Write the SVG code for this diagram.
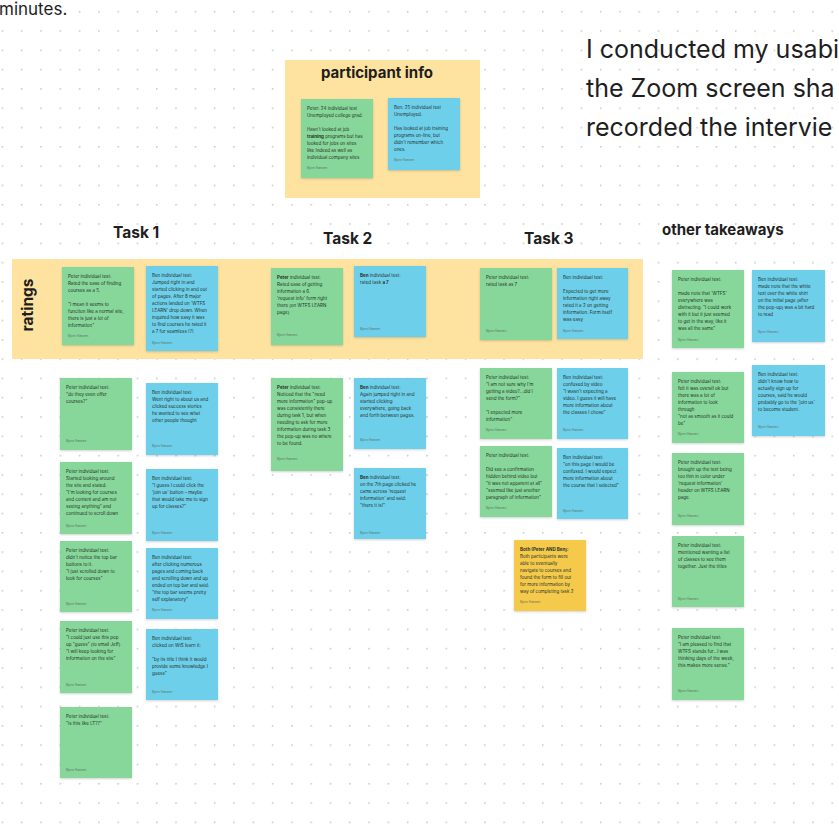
<svg xmlns="http://www.w3.org/2000/svg" width="839" height="839" viewBox="0 0 839 839">
<defs>
<pattern id="dots" x="1.6" y="10.9" width="19.3" height="19.3" patternUnits="userSpaceOnUse">
<circle cx="0.8" cy="0.8" r="0.85" fill="#c6c6c6"/>
</pattern>
<filter id="sh" x="-10%" y="-10%" width="130%" height="130%">
<feDropShadow dx="0" dy="1" stdDeviation="1" flood-color="#000" flood-opacity="0.18"/>
</filter>
<style>
.g{fill:#88d79a;filter:url(#sh)}
.b{fill:#6ecfea;filter:url(#sh)}
.y{fill:#f5ca4c;filter:url(#sh)}
.board{fill:#fde39f}
.t{font-family:Inter,"Liberation Sans",sans-serif;font-size:4.5px;fill:#24332c}
.a{font-family:Inter,"Liberation Sans",sans-serif;font-size:3.2px;fill:#5a6f64}
.h{font-family:Inter,"Liberation Sans",sans-serif;font-weight:700;fill:#1e1e1e}
.big{font-family:Inter,"Liberation Sans",sans-serif;fill:#1e1e1e}
.bo{font-weight:700}
</style>
</defs>
<rect width="839" height="839" fill="#ffffff"/>
<rect width="839" height="839" fill="url(#dots)"/>

<text class="big" x="-1" y="15" font-size="17">minutes.</text>
<g id="intro">
<text class="big" x="586" y="58" font-size="25">I conducted my usabi</text>
<text class="big" x="586" y="97" font-size="25">the Zoom screen sha</text>
<text class="big" x="586" y="136" font-size="25">recorded the intervie</text>
</g>

<g id="participant-info">
<rect class="board" x="285" y="60" width="195" height="138"/>
<text class="h" x="377" y="78" font-size="15" text-anchor="middle">participant info</text>
</g>
<g id="p-peter" transform="translate(301,99)">
<rect class="g" width="72" height="79"/>
<text class="t"><tspan x="6" y="11">Peter: 24 individual test</tspan><tspan x="6" y="18">Unemployed college grad.</tspan><tspan x="6" y="32">Hasn't looked at job</tspan><tspan x="6" y="39"><tspan class="bo">training</tspan> programs but has</tspan><tspan x="6" y="46">looked for jobs on sites</tspan><tspan x="6" y="53">like Indeed as well as</tspan><tspan x="6" y="60">individual company sites</tspan></text>
<text class="a" x="6" y="70">Bjorn Hansen</text>
</g>
<g id="p-ben" transform="translate(388,98)">
<rect class="b" width="72" height="72"/>
<text class="t"><tspan x="6" y="11">Ben: 25 individual test</tspan><tspan x="6" y="18">Unemployed.</tspan><tspan x="6" y="32">Has looked at job training</tspan><tspan x="6" y="39">programs on-line, but</tspan><tspan x="6" y="46">didn't remember which</tspan><tspan x="6" y="53">ones.</tspan></text>
<text class="a" x="6" y="63">Bjorn Hansen</text>
</g>

<g id="headings">
<text class="h" x="113" y="238" font-size="15.5">Task 1</text>
<text class="h" x="323" y="244" font-size="15.5">Task 2</text>
<text class="h" x="524" y="244" font-size="15.5">Task 3</text>
<text class="h" x="662" y="235" font-size="15">other takeaways</text>
</g>

<g id="ratings">
<rect class="board" x="12" y="259" width="631" height="100"/>
<text class="h" font-size="15.5" text-anchor="middle" transform="translate(33,305) rotate(-90)">ratings</text>
</g>

<g id="r1-peter" transform="translate(62,267)">
<rect class="g" width="72" height="78"/>
<text class="t"><tspan x="6" y="11">Peter individual test:</tspan><tspan x="6" y="18">Rated the ease of finding</tspan><tspan x="6" y="25">courses as a 5.</tspan><tspan x="6" y="39">"I mean it seems to</tspan><tspan x="6" y="46">function like a normal site,</tspan><tspan x="6" y="53">there is just a lot of</tspan><tspan x="6" y="60">information"</tspan></text>
<text class="a" x="6" y="70">Bjorn Hansen</text>
</g>
<g id="r1-ben" transform="translate(146,266)">
<rect class="b" width="72" height="85"/>
<text class="t"><tspan x="6" y="11">Ben individual test:</tspan><tspan x="6" y="18">Jumped right in and</tspan><tspan x="6" y="25">started clicking in and out</tspan><tspan x="6" y="32">of pages. After 8 major</tspan><tspan x="6" y="39">actions landed on 'WTFS</tspan><tspan x="6" y="46">LEARN' drop down. When</tspan><tspan x="6" y="53">inquired how easy it was</tspan><tspan x="6" y="60">to find courses he rated it</tspan><tspan x="6" y="67">a 7 for seamless (?)</tspan></text>
<text class="a" x="6" y="78">Bjorn Hansen</text>
</g>
<g id="r2-peter" transform="translate(271,268)">
<rect class="g" width="72" height="77"/>
<text class="t"><tspan x="6" y="11"><tspan class="bo">Peter</tspan> individual test:</tspan><tspan x="6" y="18">Rated ease of getting</tspan><tspan x="6" y="25">information a 6.</tspan><tspan x="6" y="32">'request info' form right</tspan><tspan x="6" y="39">there (on WTFS LEARN</tspan><tspan x="6" y="46">page)</tspan></text>
<text class="a" x="6" y="68">Bjorn Hansen</text>
</g>
<g id="r2-ben" transform="translate(354,266)">
<rect class="b" width="72" height="71"/>
<text class="t"><tspan x="6" y="11"><tspan class="bo">Ben</tspan> individual test:</tspan><tspan x="6" y="18">rated task <tspan class="bo">a 7</tspan></tspan></text>
<text class="a" x="6" y="64">Bjorn Hansen</text>
</g>
<g id="r3-peter" transform="translate(480,268)">
<rect class="g" width="72" height="72"/>
<text class="t"><tspan x="6" y="11">Peter individual test:</tspan><tspan x="6" y="18">rated task as 7</tspan></text>
<text class="a" x="6" y="64">Bjorn Hansen</text>
</g>
<g id="r3-ben" transform="translate(557,268)">
<rect class="b" width="71" height="71"/>
<text class="t"><tspan x="6" y="11">Ben individual test:</tspan><tspan x="6" y="25">Expected to get more</tspan><tspan x="6" y="32">information right away</tspan><tspan x="6" y="39">rated it a 2 on getting</tspan><tspan x="6" y="46">information. Form itself</tspan><tspan x="6" y="53">was easy</tspan></text>
<text class="a" x="6" y="64">Bjorn Hansen</text>
</g>

<g id="t1-peter-1" transform="translate(60,378)">
<rect class="g" width="72" height="72"/>
<text class="t"><tspan x="6" y="11">Peter individual test:</tspan><tspan x="6" y="18">"do they even offer</tspan><tspan x="6" y="25">courses?"</tspan></text>
<text class="a" x="6" y="64">Bjorn Hansen</text>
</g>
<g id="t1-ben-1" transform="translate(146,383)">
<rect class="b" width="72" height="72"/>
<text class="t"><tspan x="6" y="11">Ben individual test:</tspan><tspan x="6" y="18">Went right to about us and</tspan><tspan x="6" y="25">clicked success stories</tspan><tspan x="6" y="32">he wanted to see what</tspan><tspan x="6" y="39">other people thought</tspan></text>
<text class="a" x="6" y="64">Bjorn Hansen</text>
</g>
<g id="t1-peter-2" transform="translate(60,462)">
<rect class="g" width="72" height="72"/>
<text class="t"><tspan x="6" y="11">Peter individual test:</tspan><tspan x="6" y="18">Started looking around</tspan><tspan x="6" y="25">the site and stated:</tspan><tspan x="6" y="32">"I'm looking for courses</tspan><tspan x="6" y="39">and content and am not</tspan><tspan x="6" y="46">seeing anything" and</tspan><tspan x="6" y="53">continued to scroll down</tspan></text>
<text class="a" x="6" y="65">Bjorn Hansen</text>
</g>
<g id="t1-ben-2" transform="translate(146,469)">
<rect class="b" width="72" height="72"/>
<text class="t"><tspan x="6" y="11">Ben individual test:</tspan><tspan x="6" y="18">"I guess I could click the</tspan><tspan x="6" y="25">'join us' button – maybe</tspan><tspan x="6" y="32">that would take me to sign</tspan><tspan x="6" y="39">up for classes?"</tspan></text>
<text class="a" x="6" y="65">Bjorn Hansen</text>
</g>
<g id="t1-peter-3" transform="translate(60,541)">
<rect class="g" width="72" height="71"/>
<text class="t"><tspan x="6" y="11">Peter individual test:</tspan><tspan x="6" y="18">didn't notice the top bar</tspan><tspan x="6" y="25">buttons to it.</tspan><tspan x="6" y="32">"I just scrolled down to</tspan><tspan x="6" y="39">look for courses"</tspan></text>
<text class="a" x="6" y="64">Bjorn Hansen</text>
</g>
<g id="t1-ben-3" transform="translate(146,548)">
<rect class="b" width="72" height="71"/>
<text class="t"><tspan x="6" y="11">Ben individual test:</tspan><tspan x="6" y="18">after clicking numerous</tspan><tspan x="6" y="25">pages and coming back</tspan><tspan x="6" y="32">and scrolling down and up</tspan><tspan x="6" y="39">ended on top bar and said:</tspan><tspan x="6" y="46">"the top bar seems pretty</tspan><tspan x="6" y="53">self explanatory"</tspan></text>
<text class="a" x="6" y="63">Bjorn Hansen</text>
</g>
<g id="t1-peter-4" transform="translate(60,621)">
<rect class="g" width="72" height="72"/>
<text class="t"><tspan x="6" y="11">Peter individual test:</tspan><tspan x="6" y="18">"I could just use this pop</tspan><tspan x="6" y="25">up "guess" (to email Jeff)</tspan><tspan x="6" y="32">"I will keep looking for</tspan><tspan x="6" y="39">information on the site"</tspan></text>
<text class="a" x="6" y="65">Bjorn Hansen</text>
</g>
<g id="t1-ben-4" transform="translate(146,629)">
<rect class="b" width="72" height="71"/>
<text class="t"><tspan x="6" y="11">Ben individual test:</tspan><tspan x="6" y="18">clicked on WtS learn it:</tspan><tspan x="6" y="32">"by its title I think it would</tspan><tspan x="6" y="39">provide some knowledge I</tspan><tspan x="6" y="46">guess"</tspan></text>
<text class="a" x="6" y="64">Bjorn Hansen</text>
</g>
<g id="t1-peter-5" transform="translate(60,707)">
<rect class="g" width="72" height="71"/>
<text class="t"><tspan x="6" y="11">Peter individual test:</tspan><tspan x="6" y="18">"is this like LT??"</tspan></text>
<text class="a" x="6" y="64">Bjorn Hansen</text>
</g>

<g id="t2-peter-1" transform="translate(271,378)">
<rect class="g" width="72" height="93"/>
<text class="t"><tspan x="6" y="11"><tspan class="bo">Peter</tspan> individual test:</tspan><tspan x="6" y="18">Noticed that the "need</tspan><tspan x="6" y="25">more information" pop-up</tspan><tspan x="6" y="32">was consistently there</tspan><tspan x="6" y="39">during task 1, but when</tspan><tspan x="6" y="46">needing to ask for more</tspan><tspan x="6" y="53">information during task 3</tspan><tspan x="6" y="60">the pop-up was no where</tspan><tspan x="6" y="67">to be found.</tspan></text>
<text class="a" x="6" y="82">Bjorn Hansen</text>
</g>
<g id="t2-ben-1" transform="translate(354,378)">
<rect class="b" width="72" height="71"/>
<text class="t"><tspan x="6" y="11"><tspan class="bo">Ben</tspan> individual test:</tspan><tspan x="6" y="18">Again jumped right in and</tspan><tspan x="6" y="25">started clicking</tspan><tspan x="6" y="32">everywhere, going back</tspan><tspan x="6" y="39">and forth between pages.</tspan></text>
<text class="a" x="6" y="63">Bjorn Hansen</text>
</g>
<g id="t2-ben-2" transform="translate(354,468)">
<rect class="b" width="72" height="71"/>
<text class="t"><tspan x="6" y="11"><tspan class="bo">Ben</tspan> individual test:</tspan><tspan x="6" y="18">on the 7th page clicked he</tspan><tspan x="6" y="25">came across 'request</tspan><tspan x="6" y="32">information' and said:</tspan><tspan x="6" y="39">"there it is!"</tspan></text>
<text class="a" x="6" y="66">Bjorn Hansen</text>
</g>

<g id="t3-peter-1" transform="translate(480,368)">
<rect class="g" width="72" height="71"/>
<text class="t"><tspan x="6" y="11">Peter individual test:</tspan><tspan x="6" y="18">"I am not sure why I'm</tspan><tspan x="6" y="25">getting a video?...did I</tspan><tspan x="6" y="32">send the form?"</tspan><tspan x="6" y="46">"I expected more</tspan><tspan x="6" y="53">information"</tspan></text>
<text class="a" x="6" y="63">Bjorn Hansen</text>
</g>
<g id="t3-ben-1" transform="translate(557,368)">
<rect class="b" width="71" height="71"/>
<text class="t"><tspan x="6" y="11">Ben individual test:</tspan><tspan x="6" y="18">confused by video</tspan><tspan x="6" y="25">"I wasn't expecting a</tspan><tspan x="6" y="32">video. I guess it will have</tspan><tspan x="6" y="39">more information about</tspan><tspan x="6" y="46">the classes I chose"</tspan></text>
<text class="a" x="6" y="63">Bjorn Hansen</text>
</g>
<g id="t3-peter-2" transform="translate(480,446)">
<rect class="g" width="72" height="71"/>
<text class="t"><tspan x="6" y="11">Peter individual test:</tspan><tspan x="6" y="25">Did see a confirmation</tspan><tspan x="6" y="32">hidden behind video but</tspan><tspan x="6" y="39">"it was not apparent at all"</tspan><tspan x="6" y="46">"seemed like just another</tspan><tspan x="6" y="53">paragraph of information"</tspan></text>
<text class="a" x="6" y="63">Bjorn Hansen</text>
</g>
<g id="t3-ben-2" transform="translate(557,448)">
<rect class="b" width="71" height="71"/>
<text class="t"><tspan x="6" y="11">Ben individual test:</tspan><tspan x="6" y="18">"on this page I would be</tspan><tspan x="6" y="25">confused. I would expect</tspan><tspan x="6" y="32">more information about</tspan><tspan x="6" y="39">the course that I selected"</tspan></text>
<text class="a" x="6" y="64">Bjorn Hansen</text>
</g>
<g id="t3-both" transform="translate(514,540)">
<rect class="y" width="72" height="71"/>
<text class="t"><tspan x="6" y="11" class="bo">Both (Peter AND Ben):</tspan><tspan x="6" y="18">Both participants were</tspan><tspan x="6" y="25">able to eventually</tspan><tspan x="6" y="32">navigate to courses and</tspan><tspan x="6" y="39">found the form to fill out</tspan><tspan x="6" y="46">for more information by</tspan><tspan x="6" y="53">way of completing task 2</tspan></text>
<text class="a" x="6" y="63">Bjorn Hansen</text>
</g>

<g id="o-peter-1" transform="translate(672,270)">
<rect class="g" width="72" height="78"/>
<text class="t"><tspan x="6" y="11">Peter individual test:</tspan><tspan x="6" y="25">made note that 'WTFS'</tspan><tspan x="6" y="32">everywhere was</tspan><tspan x="6" y="39">distracting. "I could work</tspan><tspan x="6" y="46">with it but it just seemed</tspan><tspan x="6" y="53">to get in the way, like it</tspan><tspan x="6" y="60">was all the same"</tspan></text>
<text class="a" x="6" y="71">Bjorn Hansen</text>
</g>
<g id="o-ben-1" transform="translate(752,270)">
<rect class="b" width="73" height="72"/>
<text class="t"><tspan x="6" y="11">Ben individual test:</tspan><tspan x="6" y="18">made note that the white</tspan><tspan x="6" y="25">text over the white shirt</tspan><tspan x="6" y="32">on the initial page (after</tspan><tspan x="6" y="39">the pop-up) was a bit hard</tspan><tspan x="6" y="46">to read</tspan></text>
<text class="a" x="6" y="63">Bjorn Hansen</text>
</g>
<g id="o-peter-2" transform="translate(672,372)">
<rect class="g" width="72" height="71"/>
<text class="t"><tspan x="6" y="11">Peter individual test:</tspan><tspan x="6" y="18">felt it was overall ok but</tspan><tspan x="6" y="25">there was a lot of</tspan><tspan x="6" y="32">information to look</tspan><tspan x="6" y="39">through</tspan><tspan x="6" y="46">"not as smooth as it could</tspan><tspan x="6" y="53">be"</tspan></text>
<text class="a" x="6" y="63">Bjorn Hansen</text>
</g>
<g id="o-ben-2" transform="translate(752,365)">
<rect class="b" width="73" height="71"/>
<text class="t"><tspan x="6" y="11">Ben individual test:</tspan><tspan x="6" y="18">didn't know how to</tspan><tspan x="6" y="25">actually sign up for</tspan><tspan x="6" y="32">courses, said he would</tspan><tspan x="6" y="39">probably go to the 'join us'</tspan><tspan x="6" y="46">to become student.</tspan></text>
<text class="a" x="6" y="63">Bjorn Hansen</text>
</g>
<g id="o-peter-3" transform="translate(672,453)">
<rect class="g" width="72" height="72"/>
<text class="t"><tspan x="6" y="11">Peter individual test:</tspan><tspan x="6" y="18">brought up the text being</tspan><tspan x="6" y="25">too thin in color under</tspan><tspan x="6" y="32">'request information'</tspan><tspan x="6" y="39">header on WTFS LEARN</tspan><tspan x="6" y="46">page.</tspan></text>
<text class="a" x="6" y="64">Bjorn Hansen</text>
</g>
<g id="o-peter-4" transform="translate(672,536)">
<rect class="g" width="72" height="71"/>
<text class="t"><tspan x="6" y="11">Peter individual test:</tspan><tspan x="6" y="18">mentioned wanting a list</tspan><tspan x="6" y="25">of classes to see them</tspan><tspan x="6" y="32">together. Just the titles</tspan></text>
<text class="a" x="6" y="64">Bjorn Hansen</text>
</g>
<g id="o-peter-5" transform="translate(672,628)">
<rect class="g" width="72" height="72"/>
<text class="t"><tspan x="6" y="11">Peter individual test:</tspan><tspan x="6" y="18">"I am pleased to find that</tspan><tspan x="6" y="25">WTFS stands for...I was</tspan><tspan x="6" y="32">thinking days of the week,</tspan><tspan x="6" y="39">this makes more sense."</tspan></text>
<text class="a" x="6" y="64">Bjorn Hansen</text>
</g>
<g id="connectors"></g>
</svg>
